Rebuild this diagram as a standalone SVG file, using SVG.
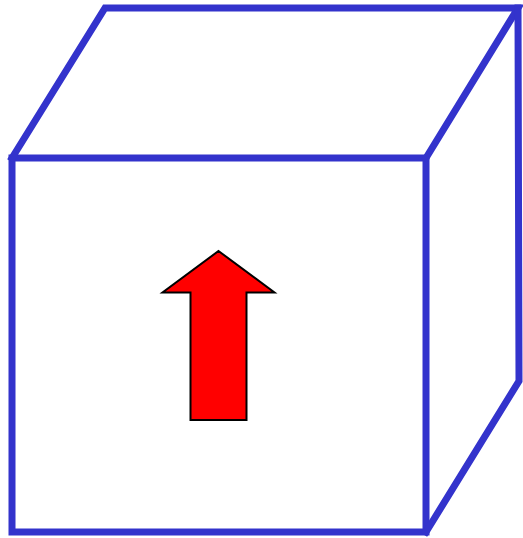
<svg xmlns="http://www.w3.org/2000/svg" width="523" height="538" viewBox="0 0 523 538">
<style>
.edge{fill:none;stroke:#3333cc;stroke-width:7;stroke-linejoin:miter;stroke-linecap:square}
.arrow{fill:#ff0000;stroke:#000;stroke-width:2;stroke-linejoin:miter}
</style>
<rect width="523" height="538" fill="#fff"/>
<g id="cube">
<rect class="edge" x="12" y="158" width="414" height="374"/>
<polyline class="edge" points="12,158 105,8 518,8 426,158"/>
<polyline class="edge" points="518,8 519,381 426,532"/>
</g>
<g id="arrow">
<polygon class="arrow" points="218.5,251 274.5,292.5 246.5,292.5 246.5,420 190.5,420 190.5,292.5 162.5,292.5"/>
</g>
</svg>
